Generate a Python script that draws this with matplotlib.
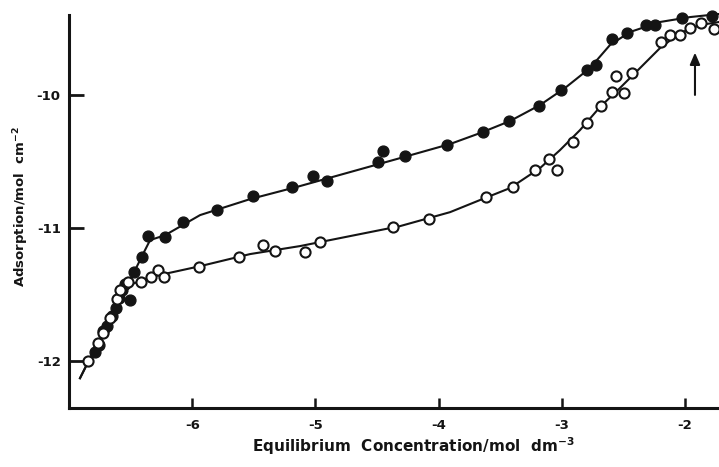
## adsorption isotherms: closed and open circles with hand-drawn style curves
import numpy as np
import matplotlib.pyplot as plt

plt.rc('font', family='DejaVu Sans', weight='bold')

# closed circles (log concentration, log adsorption)
closed_x = [-6.789, -6.756, -6.724, -6.691, -6.651, -6.618, -6.594, -6.570, -6.545,
            -6.504, -6.472, -6.407, -6.358, -6.220, -6.074, -5.798, -5.506, -5.189,
            -5.019, -4.906, -4.492, -4.451, -4.273, -3.932, -3.640, -3.429, -3.185,
            -3.006, -2.795, -2.722, -2.592, -2.471, -2.317, -2.244, -2.025, -1.781]
closed_y = [-11.932, -11.880, -11.774, -11.737, -11.662, -11.602, -11.526, -11.466, -11.421,
            -11.541, -11.331, -11.218, -11.060, -11.068, -10.955, -10.865, -10.759, -10.692,
            -10.609, -10.647, -10.504, -10.421, -10.459, -10.376, -10.278, -10.195, -10.083,
            -9.962, -9.812, -9.774, -9.579, -9.534, -9.474, -9.474, -9.421, -9.406]

# open circles
open_x = [-6.846, -6.765, -6.724, -6.667, -6.610, -6.586, -6.521, -6.416, -6.334,
          -6.277, -6.229, -5.945, -5.620, -5.425, -5.328, -5.084, -4.963, -4.370,
          -4.078, -3.615, -3.396, -3.218, -3.104, -3.039, -2.909, -2.795, -2.682,
          -2.592, -2.495, -2.560, -2.430, -2.195, -2.122, -2.041, -1.959, -1.870, -1.765]
open_y = [-12.000, -11.865, -11.789, -11.677, -11.534, -11.466, -11.406, -11.406, -11.368,
          -11.316, -11.368, -11.293, -11.218, -11.128, -11.173, -11.180, -11.105, -10.992,
          -10.932, -10.767, -10.692, -10.564, -10.481, -10.564, -10.353, -10.211, -10.083,
          -9.977, -9.985, -9.857, -9.835, -9.602, -9.549, -9.549, -9.496, -9.459, -9.504]

# drawn curves
closed_curve_x = [-6.911, -6.846, -6.749, -6.651, -6.545, -6.464, -6.383, -6.342, -6.220,
                  -5.936, -5.530, -5.125, -4.719, -4.313, -3.907, -3.664, -3.420, -3.177,
                  -2.974, -2.771, -2.609, -2.446, -2.203, -1.959, -1.724]
closed_curve_y = [-12.128, -12.008, -11.842, -11.669, -11.466, -11.316, -11.165, -11.090, -11.053,
                  -10.902, -10.782, -10.684, -10.579, -10.474, -10.368, -10.286, -10.195, -10.075,
                  -9.947, -9.797, -9.624, -9.526, -9.451, -9.414, -9.391]
open_curve_x = [-6.911, -6.846, -6.749, -6.651, -6.570, -6.489, -6.342, -5.936, -5.530,
                -5.125, -4.719, -4.313, -3.907, -3.664, -3.420, -3.177, -3.015, -2.852,
                -2.690, -2.528, -2.365, -2.203, -2.041, -1.878, -1.724]
open_curve_y = [-12.128, -12.008, -11.842, -11.662, -11.504, -11.421, -11.368, -11.286, -11.195,
                -11.135, -11.060, -10.985, -10.880, -10.789, -10.699, -10.549, -10.414, -10.263,
                -10.090, -9.947, -9.797, -9.647, -9.534, -9.474, -9.451]

xticks = [-6, -5, -4, -3, -2]
yticks = [-12, -11, -10]
arrow_x = -1.919

ink = '#141414'

fig = plt.figure(figsize=(7.19, 4.67), dpi=100)
ax = fig.add_axes([0.096, 0.126, 0.904, 0.842])

ax.plot(closed_curve_x, closed_curve_y, '-', color=ink, lw=1.5, clip_on=False, zorder=2)
ax.plot(open_curve_x, open_curve_y, '-', color=ink, lw=1.5, clip_on=False, zorder=2)
ax.plot(closed_x, closed_y, 'o', ms=7.8, color=ink, mec=ink, clip_on=False, zorder=3)
ax.plot(open_x, open_y, 'o', ms=7.3, mfc='white', mec=ink, mew=1.5, clip_on=False, zorder=4)

ax.annotate('', xy=(arrow_x, -9.66), xytext=(arrow_x, -10.02),
            arrowprops=dict(arrowstyle='-|>,head_length=0.7,head_width=0.3', color=ink, lw=1.5))

ax.set_xlim(-7.0, -1.724)
ax.set_ylim(-12.353, -9.398)
ax.set_xticks(xticks)
ax.set_xticklabels([str(t) for t in xticks])
ax.set_yticks(yticks)
ax.set_yticklabels([str(t) for t in yticks])

for s in ['top', 'right']:
    ax.spines[s].set_visible(False)
for s in ['left', 'bottom']:
    ax.spines[s].set_linewidth(2.2)
    ax.spines[s].set_color(ink)

ax.tick_params(axis='y', direction='in', length=11, width=2, pad=6, labelsize=9.5, colors=ink)
ax.tick_params(axis='x', direction='in', length=7, width=1.8, pad=8, labelsize=9.5, colors=ink)

fig.text(0.575, 0.022, 'Equilibrium  Concentration/mol  dm$^{\\mathbf{-3}}$', ha='center',
         va='bottom', fontsize=11, color=ink)
fig.text(0.03, 0.557, 'Adsorption/mol  cm$^{\\mathbf{-2}}$', rotation=90, ha='center',
         va='center', fontsize=9.5, color=ink)

plt.savefig('out.png', dpi=100)
